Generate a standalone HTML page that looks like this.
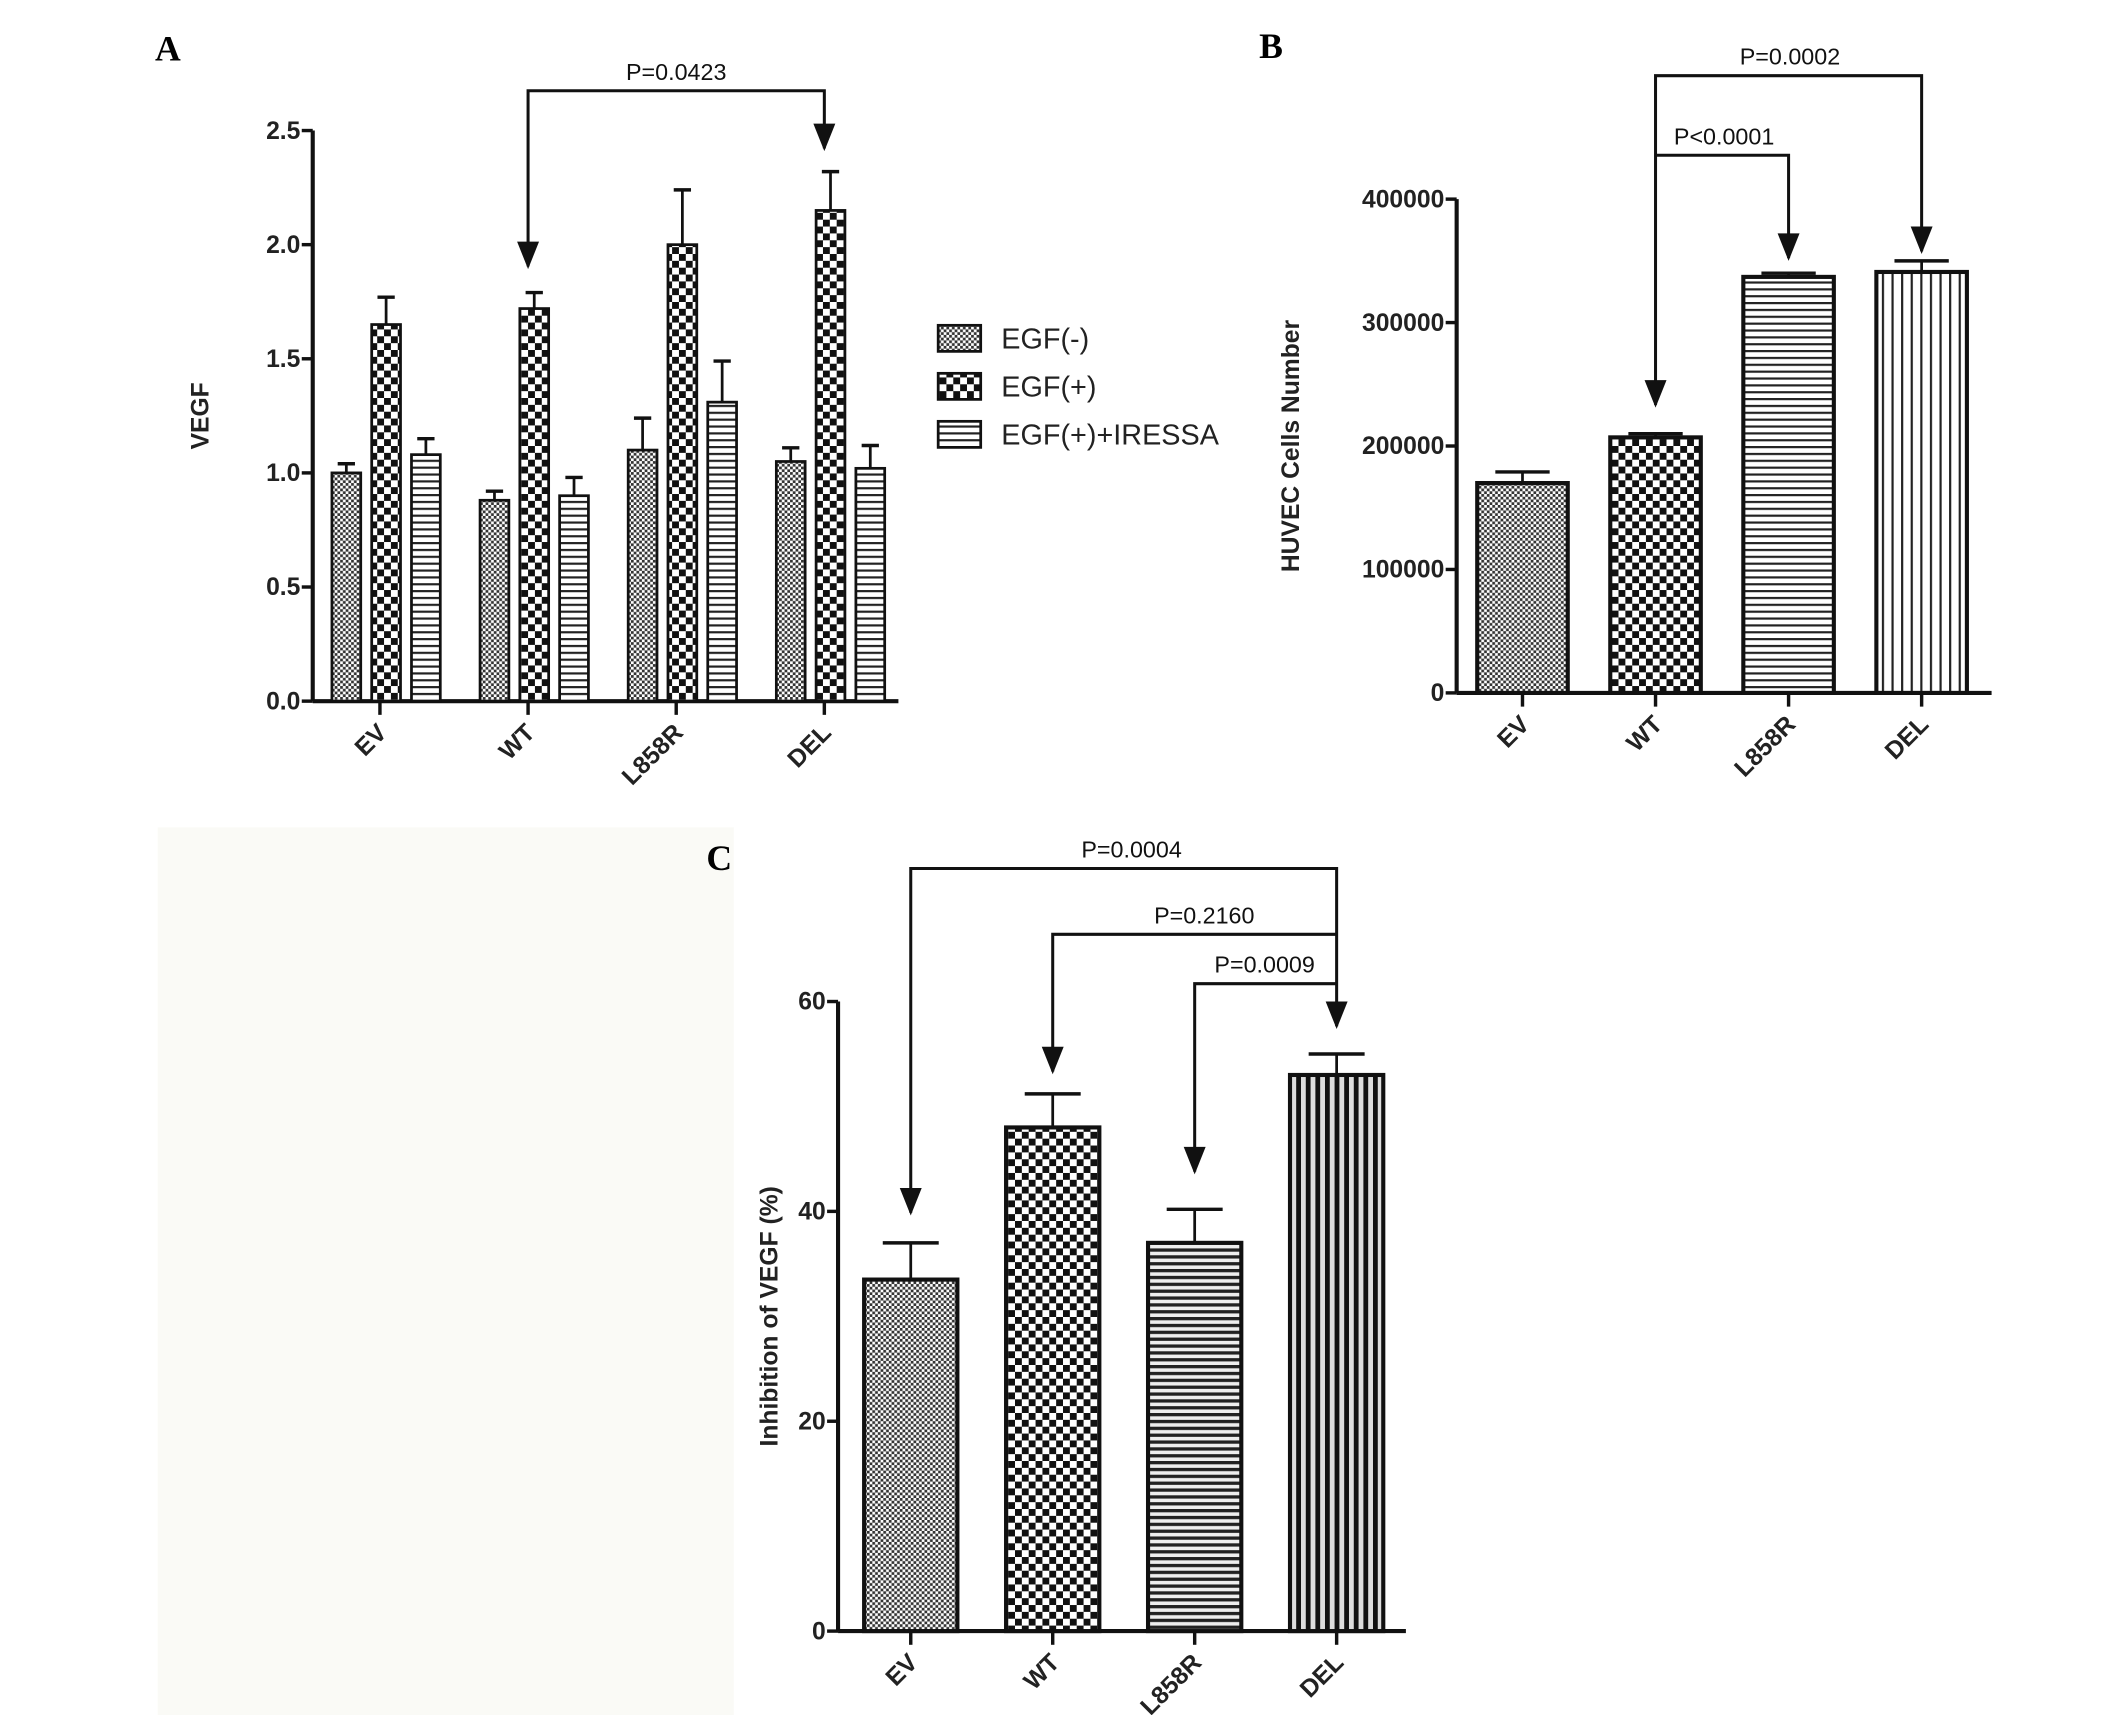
<!DOCTYPE html>
<html><head><meta charset="utf-8"><style>
html,body{margin:0;padding:0;background:#fff}
svg{display:block}
text{font-family:"Liberation Sans",sans-serif}
.tick{font-size:18px;font-weight:bold;fill:#222}
.pl{font-size:26px;font-family:"Liberation Serif",serif;font-weight:bold}
</style></head><body>
<svg id="fig" width="2126" height="1715" viewBox="0 0 1550 1250">
<defs>
<pattern id="pFine" width="4" height="4" patternUnits="userSpaceOnUse"><rect width="4" height="4" fill="#fff"/><rect width="2" height="2" fill="#333"/><rect x="2" y="2" width="2" height="2" fill="#333"/></pattern>
<pattern id="pCoarse" width="10" height="10" patternUnits="userSpaceOnUse"><rect width="10" height="10" fill="#fff"/><rect width="5" height="5" fill="#111"/><rect x="5" y="5" width="5" height="5" fill="#111"/></pattern>
<pattern id="pH" width="6" height="5" patternUnits="userSpaceOnUse"><rect width="6" height="5" fill="#fff"/><rect width="6" height="1.6" fill="#222"/></pattern>
<pattern id="pV" width="7" height="6" patternUnits="userSpaceOnUse"><rect width="7" height="6" fill="#fff"/><rect width="1.6" height="6" fill="#222"/></pattern>
<pattern id="pVd" width="7" height="6" patternUnits="userSpaceOnUse"><rect width="7" height="6" fill="#ddd"/><rect width="3.5" height="6" fill="#111"/></pattern>
<pattern id="pHd" width="6" height="5" patternUnits="userSpaceOnUse"><rect width="6" height="5" fill="#eee"/><rect width="6" height="2.4" fill="#222"/></pattern>
</defs>
<rect x="115" y="603" width="420" height="662" fill="#fafaf6"/>
<text x="113" y="44" class="pl">A</text>
<text x="918" y="42" class="pl">B</text>
<text x="515" y="634" class="pl">C</text>
<g id="A"></g><g id="B"></g><g id="C"></g>
</svg>
<script>
// Panel A data
const aCategories=["EV","WT","L858R","DEL"];
const aSeries=["EGF(-)","EGF(+)","EGF(+)+IRESSA"];
const aNeg=[1.00,0.88,1.10,1.05];
const aNegErr=[0.04,0.04,0.14,0.06];
const aPos=[1.65,1.72,2.00,2.15];
const aPosErr=[0.12,0.07,0.24,0.17];
const aIre=[1.08,0.90,1.31,1.02];
const aIreErr=[0.07,0.08,0.18,0.10];
const aTicks=["0.0","0.5","1.0","1.5","2.0","2.5"];
// Panel B data
const bCategories=["EV","WT","L858R","DEL"];
const bValues=[170000,207000,337000,341000];
const bErr=[9000,3000,3000,9000];
const bTicks=["0","100000","200000","300000","400000"];
// Panel C data
const cCategories=["EV","WT","L858R","DEL"];
const cValues=[33.5,48.0,37.0,53.0];
const cErr=[3.5,3.2,3.2,2.0];
const cTicks=["0","20","40","60"];

const NS="http://www.w3.org/2000/svg";
function mk(parent,tag,attrs,txt){const e=document.createElementNS(NS,tag);for(const k in attrs)e.setAttribute(k,attrs[k]);if(txt!==undefined)e.textContent=txt;parent.appendChild(e);return e;}

function axes(g,cfg){
  const {x0,x1,yTop,yBot,max,ticks,cats,catX,title,titleX,prefix}=cfg;
  const ys=v=>yBot-(v/max)*(yBot-yTop);
  let e=mk(g,"line",{x1:x0,y1:yTop,x2:x0,y2:yBot,stroke:"#111","stroke-width":3});
  
  
  e=mk(g,"line",{x1:x0,y1:yBot,x2:x1,y2:yBot,stroke:"#111","stroke-width":3});
  
  
  ticks.forEach(t=>{const y=ys(parseFloat(t));
    mk(g,"line",{x1:x0-8,y1:y,x2:x0,y2:y,stroke:"#111","stroke-width":2.5});
    const tx=mk(g,"text",{x:x0-9,y:y+6,"text-anchor":"end",class:"tick"},t);
    
    
  });
  cats.forEach((c,i)=>{const x=catX(i);
    mk(g,"line",{x1:x,y1:yBot,x2:x,y2:yBot+10,stroke:"#111","stroke-width":2.5});
    const tx=mk(g,"text",{x:x+6,y:yBot+24,"text-anchor":"end",class:"tick",transform:`rotate(-45 ${x+6} ${yBot+24})`},c);
    
    
  });
  const ty=(yTop+yBot)/2;
  const tt=mk(g,"text",{x:titleX,y:ty,"text-anchor":"middle",class:"tick","font-size":cfg.titleSize||20,transform:`rotate(-90 ${titleX} ${ty})`},title);
  
  
  return ys;
}
function bar(g,x,w,v,err,ys,fill,name,sw){
  const yb=ys(0),yv=ys(v),ye=ys(v+err);
  const r=mk(g,"rect",{x:x,y:yv,width:w,height:yb-yv,fill:fill,stroke:"#111","stroke-width":sw||2.5});
  
  
  mk(g,"line",{x1:x+w/2,y1:yv,x2:x+w/2,y2:ye,stroke:"#111","stroke-width":2});
  mk(g,"line",{x1:x+w/2-w*0.3,y1:ye,x2:x+w/2+w*0.3,y2:ye,stroke:"#111","stroke-width":2.5});
}
function bracket(g,xa,xb,y,tipA,tipB,label,lx,name){
  const ea=tipA===null?y:tipA-2, eb=tipB===null?y:tipB-2;
  const p=mk(g,"path",{d:`M${xa},${ea} L${xa},${y} L${xb},${y} L${xb},${eb}`,fill:"none",stroke:"#111","stroke-width":2.2});
  
  
  [[xa,tipA],[xb,tipB]].forEach(([x,t])=>{if(t!==null)mk(g,"path",{d:`M${x-8},${t-20} L${x+8},${t-20} L${x},${t}z`,fill:"#111"});});
  const tx=mk(g,"text",{x:lx,y:y-8,"text-anchor":"middle","font-size":17,fill:"#111"},label);
  
  
}

// Panel A
(function(){
  const g=document.getElementById('A');
  const catX=i=>277+i*108;
  const ys=axes(g,{x0:228,x1:655,yTop:95,yBot:511,max:2.5,ticks:aTicks,cats:aCategories,catX,title:"VEGF",titleX:152,titleSize:22,prefix:"panel-a"});
  const fills=["url(#pFine)","url(#pCoarse)","url(#pH)"];
  const vals=[aNeg,aPos,aIre],errs=[aNegErr,aPosErr,aIreErr];
  aCategories.forEach((c,i)=>{
    for(let s=0;s<3;s++){
      bar(g,catX(i)-35+s*29,21,vals[s][i],errs[s][i],ys,fills[s],'bar-'+c.toLowerCase()+'-series'+(s+1),2);
    }
  });
  bracket(g,catX(1),catX(3),66,196,110,"P=0.0423",493,"panel-a-significance-bracket");
  aSeries.forEach((s,i)=>{
    const y=246+i*35;
    const r=mk(g,"rect",{x:684,y:y-9,width:31,height:19,fill:fills[i],stroke:"#111","stroke-width":2});
    
    
    const t=mk(g,"text",{x:730,y:y+8,"font-size":21,fill:"#222"},s);
    
    
  });
})();
// Panel B
(function(){
  const g=document.getElementById('B');
  const catX=i=>1110+i*97;
  const ys=axes(g,{x0:1062,x1:1452,yTop:145,yBot:505,max:400000,ticks:bTicks,cats:bCategories,catX,title:"HUVEC Cells Number",titleX:947,prefix:"panel-b"});
  const fills=["url(#pFine)","url(#pCoarse)","url(#pH)","url(#pV)"];
  bCategories.forEach((c,i)=>bar(g,catX(i)-33,66,bValues[i],bErr[i],ys,fills[i],'bar-b-'+c.toLowerCase(),3));
  bracket(g,catX(1),catX(3),55,297,185,"P=0.0002",1305,"panel-b-bracket-wt-del");
  bracket(g,catX(1),catX(2),113,null,190,"P<0.0001",1257,"panel-b-bracket-wt-l858r");
})();
// Panel C
(function(){
  const g=document.getElementById('C');
  const catX=i=>664+i*103.5;
  const ys=axes(g,{x0:611,x1:1025,yTop:730,yBot:1189,max:60,ticks:cTicks,cats:cCategories,catX,title:"Inhibition of VEGF (%)",titleX:567,titleSize:21,prefix:"panel-c"});
  const fills=["url(#pFine)","url(#pCoarse)","url(#pHd)","url(#pVd)"];
  cCategories.forEach((c,i)=>bar(g,catX(i)-34,68,cValues[i],cErr[i],ys,fills[i],'bar-c-'+c.toLowerCase(),3));
  bracket(g,catX(0),catX(3),633,886,750,"P=0.0004",825,"panel-c-bracket-ev-del");
  bracket(g,catX(1),catX(3),681,783,null,"P=0.2160",878,"panel-c-bracket-wt-del");
  bracket(g,catX(2),catX(3),717,856,null,"P=0.0009",922,"panel-c-bracket-l858r-del");
})();
</script>
</body></html>
